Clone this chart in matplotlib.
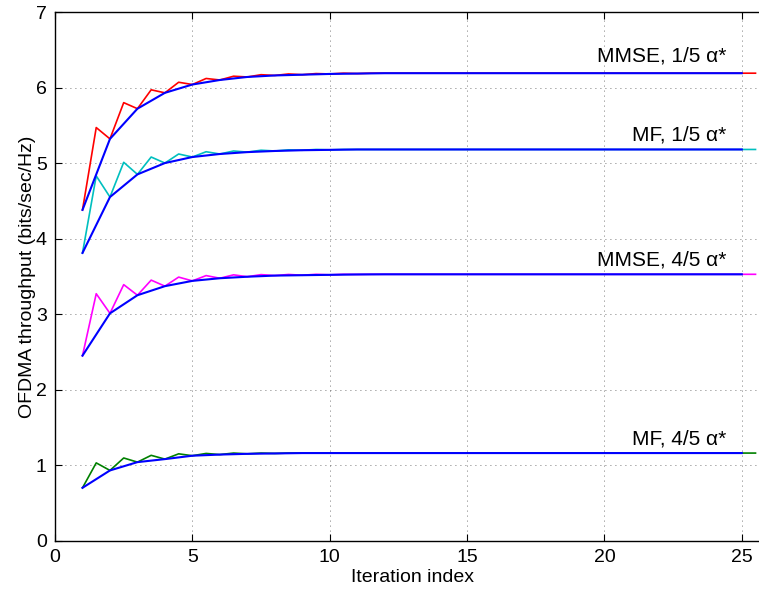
import matplotlib
matplotlib.use('Agg')
import matplotlib.pyplot as plt
import numpy as np

plt.rcParams['font.family'] = ['Liberation Sans', 'DejaVu Sans']

# blue curves: one value per iteration (x = 1..25)
iters = np.arange(1, 26)
# zigzag curves: intermediate values at half steps (x = 1.5..25.5)
half_iters = iters + 0.5

mmse_15_blue = [4.38, 5.32, 5.72, 5.93, 6.04, 6.10, 6.14, 6.16, 6.17, 6.18,
                6.185, 6.19, 6.19, 6.19, 6.19, 6.19, 6.19, 6.19, 6.19, 6.19,
                6.19, 6.19, 6.19, 6.19, 6.19]
mmse_15_half = [5.47, 5.80, 5.97, 6.07, 6.12, 6.15, 6.17, 6.18, 6.185, 6.19,
                6.19, 6.19, 6.19, 6.19, 6.19, 6.19, 6.19, 6.19, 6.19, 6.19,
                6.19, 6.19, 6.19, 6.19, 6.19]

mf_15_blue = [3.81, 4.55, 4.85, 5.00, 5.08, 5.12, 5.145, 5.16, 5.17, 5.175,
              5.18, 5.18, 5.18, 5.18, 5.18, 5.18, 5.18, 5.18, 5.18, 5.18,
              5.18, 5.18, 5.18, 5.18, 5.18]
mf_15_half = [4.83, 5.01, 5.08, 5.12, 5.15, 5.16, 5.17, 5.175, 5.18, 5.18,
              5.18, 5.18, 5.18, 5.18, 5.18, 5.18, 5.18, 5.18, 5.18, 5.18,
              5.18, 5.18, 5.18, 5.18, 5.18]

mmse_45_blue = [2.45, 3.01, 3.25, 3.37, 3.44, 3.475, 3.495, 3.51, 3.515, 3.52,
                3.525, 3.527, 3.527, 3.527, 3.527, 3.527, 3.527, 3.527, 3.527, 3.527,
                3.527, 3.527, 3.527, 3.527, 3.527]
mmse_45_half = [3.27, 3.39, 3.45, 3.49, 3.51, 3.52, 3.523, 3.525, 3.527, 3.527,
                3.527, 3.527, 3.527, 3.527, 3.527, 3.527, 3.527, 3.527, 3.527, 3.527,
                3.527, 3.527, 3.527, 3.527, 3.527]

mf_45_blue = [0.70, 0.93, 1.04, 1.08, 1.125, 1.14, 1.15, 1.155, 1.16, 1.16,
              1.16, 1.16, 1.16, 1.16, 1.16, 1.16, 1.16, 1.16, 1.16, 1.16,
              1.16, 1.16, 1.16, 1.16, 1.16]
mf_45_half = [1.03, 1.095, 1.13, 1.15, 1.155, 1.16, 1.16, 1.16, 1.16, 1.16,
              1.16, 1.16, 1.16, 1.16, 1.16, 1.16, 1.16, 1.16, 1.16, 1.16,
              1.16, 1.16, 1.16, 1.16, 1.16]

series = [
    ('MMSE, 1/5 α*', mmse_15_blue, mmse_15_half, 'red', 6.34),
    ('MF, 1/5 α*', mf_15_blue, mf_15_half, (0.0, 0.75, 0.75), 5.30),
    ('MMSE, 4/5 α*', mmse_45_blue, mmse_45_half, 'magenta', 3.64),
    ('MF, 4/5 α*', mf_45_blue, mf_45_half, (0.0, 0.5, 0.0), 1.28),
]

fig = plt.figure(figsize=(7.59, 5.92), dpi=100)
# axes run past the right edge of the figure, so the right spine is cut off
ax = fig.add_axes([0.0725, 0.0867, 0.941, 0.893])

for label, blue, half, color, label_y in series:
    # zigzag: integer points shared with the blue curve, half steps in between
    zx = np.empty(2 * len(iters))
    zy = np.empty(2 * len(iters))
    zx[0::2], zx[1::2] = iters, half_iters
    zy[0::2], zy[1::2] = blue, half
    ax.plot(zx, zy, color=color, lw=1.2)
for label, blue, half, color, label_y in series:
    ax.plot(iters, blue, color='blue', lw=1.5)
    ax.text(24.43, label_y, label, ha='right', va='baseline', fontsize=15)

ax.set_xlim(0, 26)
ax.set_ylim(0, 7)
ax.set_xticks([0, 5, 10, 15, 20, 25])
ax.set_yticks(range(8))
ax.tick_params(direction='in', length=5, width=0.8, labelsize=14, pad=6,
               top=True, right=True)
ax.grid(True, color='black', linestyle=(0, (1, 5)), linewidth=0.6, alpha=0.7)
for sp in ax.spines.values():
    sp.set_linewidth(1.0)

ax.set_xlabel('Iteration index', fontsize=14, labelpad=2)
ax.set_ylabel('OFDMA throughput (bits/sec/Hz)', fontsize=14, labelpad=0)

fig.savefig('out.png', dpi=100)
